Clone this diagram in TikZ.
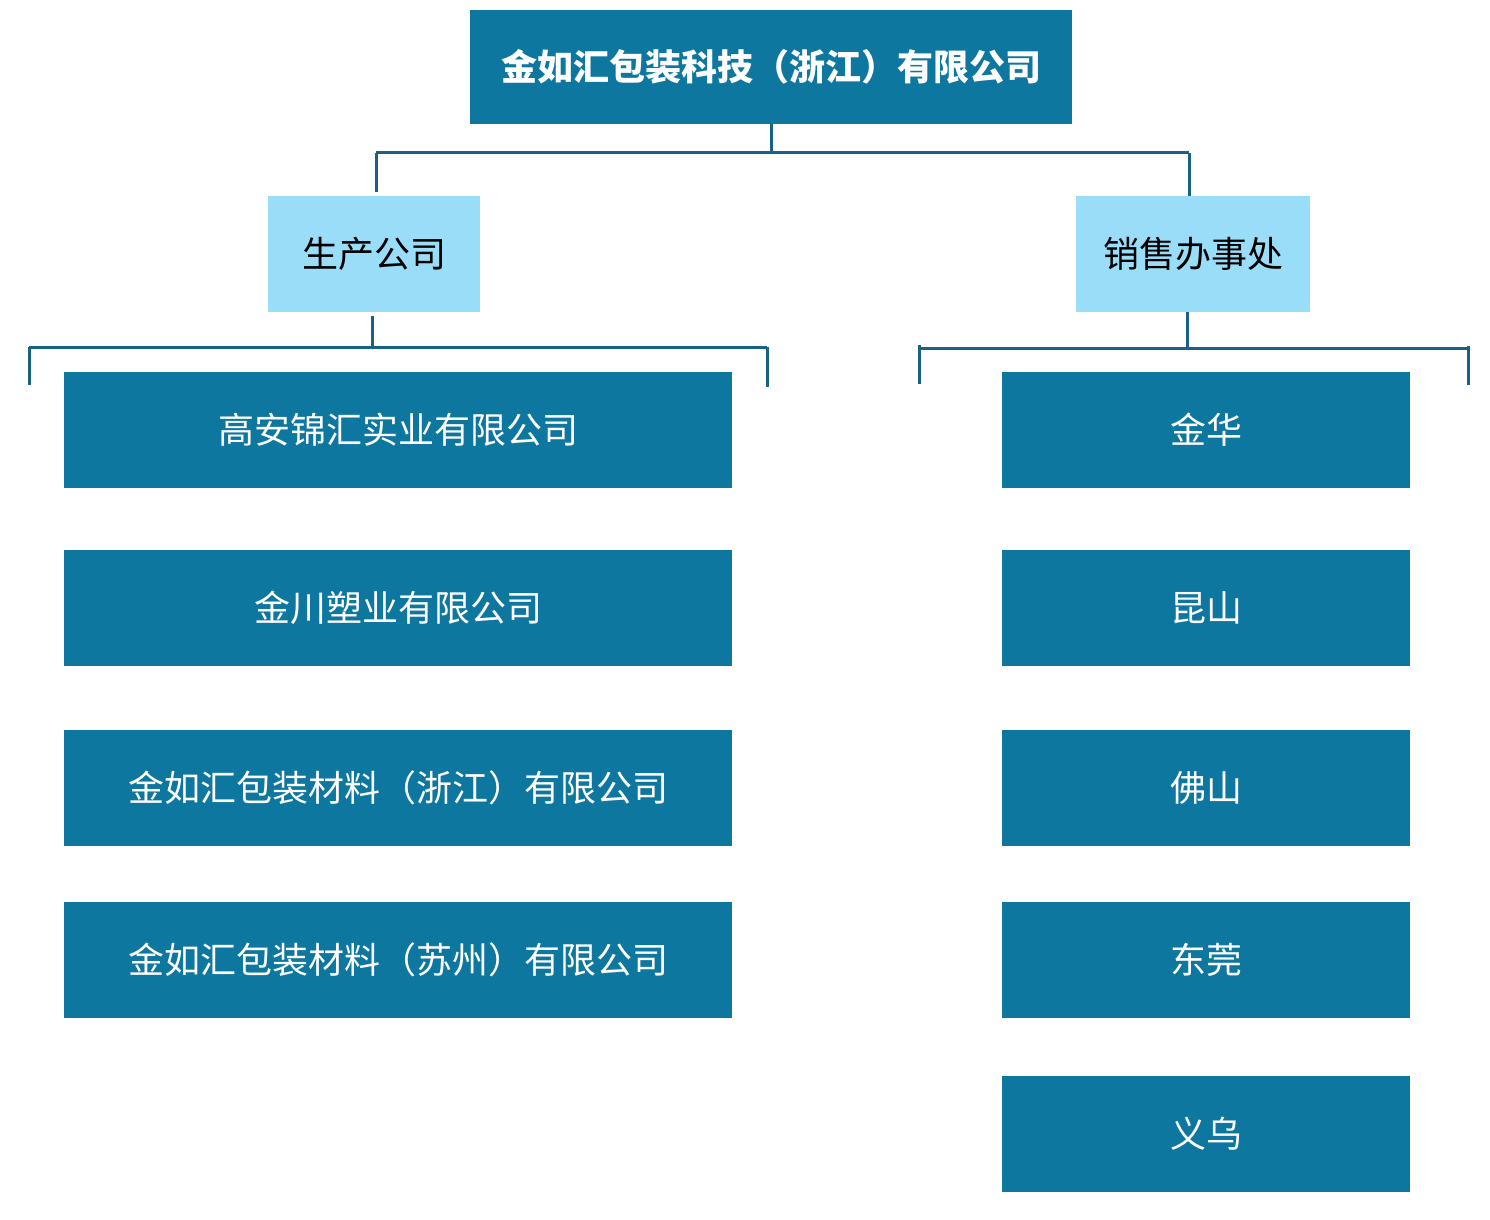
\documentclass[tikz,border=0pt]{standalone}
\usepackage{fontspec}
\newfontfamily\cjk{Noto Sans CJK SC}
\definecolor{boxblue}{HTML}{0D77A0}
\definecolor{lightblue}{HTML}{99DDF8}
\definecolor{linec}{HTML}{1A6283}
\begin{document}
\begin{tikzpicture}[x=0.5pt,y=-0.5pt,
  dark/.style={fill=boxblue,draw=none,inner sep=0pt,text=white,font=\cjk\fontsize{18}{20}\selectfont},
  light/.style={fill=lightblue,draw=none,inner sep=0pt,text=black,font=\cjk\fontsize{18}{20}\selectfont},
  conn/.style={draw=linec,line width=1.5pt}]
\useasboundingbox (0,0) rectangle (1490,1220);
% top
\node[dark,minimum width=301pt,minimum height=57pt,font=\cjk\bfseries\fontsize{18}{20}\selectfont] (top) at (771,67) {金如汇包装科技（浙江）有限公司};
\node[light,minimum width=106pt,minimum height=58pt] (prod) at (374,254) {生产公司};
\node[light,minimum width=117pt,minimum height=58pt] (sales) at (1193,254) {销售办事处};
% left boxes
\node[dark,minimum width=334pt,minimum height=58pt] (l1) at (398,430) {高安锦汇实业有限公司};
\node[dark,minimum width=334pt,minimum height=58pt] (l2) at (398,608) {金川塑业有限公司};
\node[dark,minimum width=334pt,minimum height=58pt] (l3) at (398,788) {金如汇包装材料（浙江）有限公司};
\node[dark,minimum width=334pt,minimum height=58pt] (l4) at (398,960) {金如汇包装材料（苏州）有限公司};
% right boxes
\node[dark,minimum width=204pt,minimum height=58pt] (r1) at (1206,430) {金华};
\node[dark,minimum width=204pt,minimum height=58pt] (r2) at (1206,608) {昆山};
\node[dark,minimum width=204pt,minimum height=58pt] (r3) at (1206,788) {佛山};
\node[dark,minimum width=204pt,minimum height=58pt] (r4) at (1206,960) {东莞};
\node[dark,minimum width=204pt,minimum height=58pt] (r5) at (1206,1134) {义乌};
% connectors top
\coordinate (tb) at (771,153);
\coordinate (tl) at (376,153);
\coordinate (tr) at (1189,153);
\draw[conn] (top.south) -- (tb);
\draw[conn] (tl) -- (tr);
\draw[conn] (tl) -- ([yshift=2pt]tl |- prod.north);
\draw[conn] (tr) -- (tr |- sales.north);
% left bracket
\coordinate (lb) at (372,347);
\coordinate (ll) at (29,385);
\coordinate (lr) at (767,387);
\draw[conn] ([yshift=-2pt]lb |- prod.south) -- (lb);
\draw[conn] (ll |- lb) -- (lr |- lb);
\draw[conn] (ll |- lb) -- (ll);
\draw[conn] (lr |- lb) -- (lr);
% right bracket
\coordinate (rb) at (1187,348);
\coordinate (rl) at (919,384);
\coordinate (rr) at (1468,385);
\draw[conn] (rb |- sales.south) -- (rb);
\draw[conn] (rl |- rb) -- (rr |- rb);
\draw[conn] ([yshift=1.5pt]rl |- rb) -- (rl);
\draw[conn] ([yshift=1pt]rr |- rb) -- (rr);
\end{tikzpicture}
\end{document}
